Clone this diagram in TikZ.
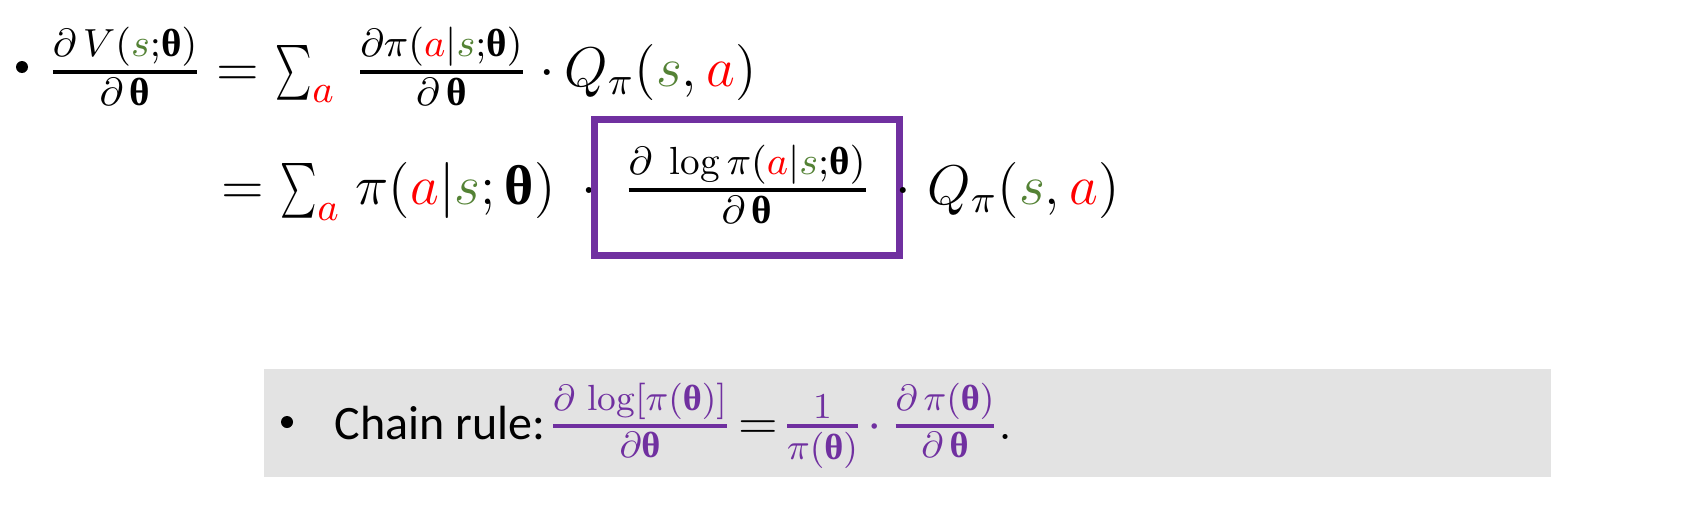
\documentclass[tikz,border=0pt]{standalone}
\usepackage{fix-cm}
\usepackage{amsmath}
\usepackage{fontspec}
\usepackage{tikz}
\newfontfamily\calibri{Carlito}
\newfontfamily\grkfont{Liberation Serif}
\DeclareMathSizes{14}{14}{9.8}{7}

\definecolor{actred}{RGB}{255,0,0}
\definecolor{stategreen}{RGB}{84,130,53}
\definecolor{boxpurple}{RGB}{112,48,160}
\definecolor{notegray}{RGB}{227,227,227}

\newcommand{\actA}{{\color{actred}a}}
\newcommand{\stS}{{\color{stategreen}s}}
\newcommand{\bth}{\text{\grkfont\bfseries θ}}
\newcommand{\tfr}[2]{\genfrac{}{}{1pt}{1}{#1}{#2}}
\newcommand{\nsum}{\mathop{\scalebox{0.6}[0.95]{$\sum$}}}
\newcommand{\notefont}{\fontsize{13}{15.6}\selectfont\setlength{\nulldelimiterspace}{0pt}}

\begin{document}
\begin{tikzpicture}[x=0.25pt,y=-0.25pt,font=\fontsize{14}{16.8}\selectfont]
    \tikzstyle{bulletdot}=[circle, fill, inner sep=0pt, minimum size=3pt]
    \tikzstyle{term}=[inner sep=0pt, anchor=base]
    \tikzstyle{termw}=[inner sep=0pt, anchor=base west]
    \tikzstyle{noteterm}=[term, font=\notefont]
    \tikzstyle{logbox}=[draw=boxpurple, line width=1.75pt, inner sep=0pt, anchor=base,
                        text height=15pt, text depth=6.5pt,
                        minimum width=76.1pt, minimum height=34pt]
    \useasboundingbox (0,0) rectangle (1699,525);

    % First line of the gradient
    \node [bulletdot] (bul1) at (22,67) {};
    \node [term] (dv) at (125,86) {$\tfr{\partial\,V(\stS;\bth)}{\partial\,\bth}$};
    \node [term] (eq1) at (238,86) {$=$};
    \node [termw] (sum1) at (275,86) {$\nsum_{\actA}$};
    \node [term] (dpi) at (441.5,86) {$\tfr{\partial\pi(\actA|\stS;\bth)}{\partial\,\bth}$};
    \node [term] (cdot1) at (547,86) {$\cdot$};
    \node [termw] (q1) at (564,86) {$Q_\pi(\stS,\actA)$};

    % Second line, with the log term boxed
    \node [term] (eq2) at (242.5,204) {$=$};
    \node [termw] (sum2) at (280,204) {$\nsum_{\actA}$};
    \node [termw] (pol) at (355,204) {$\pi(\actA|\stS;\bth)$};
    \node [term] (cdot2) at (589,204) {$\cdot$};
    \node [logbox] (dlog) at (747,204) {$\tfr{\partial\;\log\pi(\actA|\stS;\bth)}{\partial\,\bth}$};
    \node [term] (cdot3) at (903,204) {$\cdot$};
    \node [termw] (q2) at (927,204) {$Q_\pi(\stS,\actA)$};

    % Chain rule note
    \fill [notegray] (264,369) rectangle (1551,477);
    \node [bulletdot] (bul2) at (287,422) {};
    \node [termw] (rule) at (334,439) {\calibri\fontsize{12}{14}\selectfont Chain rule:};
    \node [noteterm] (cr1) at (640,439) {$\color{boxpurple}\tfr{\partial\,\log[\pi(\bth)]}{\partial\bth}$};
    \node [noteterm] (eq3) at (758,439) {$=$};
    \node [noteterm] (cr2) at (822.5,439) {$\color{boxpurple}\tfr{1}{\pi(\bth)}$};
    \node [noteterm] (cdot4) at (875,439) {$\color{boxpurple}\cdot$};
    \node [noteterm] (cr3) at (945,439) {$\color{boxpurple}\tfr{\partial\,\pi(\bth)}{\partial\,\bth}$};
    \node [noteterm, anchor=base west] (stop) at (998,439) {.};
\end{tikzpicture}
\end{document}
